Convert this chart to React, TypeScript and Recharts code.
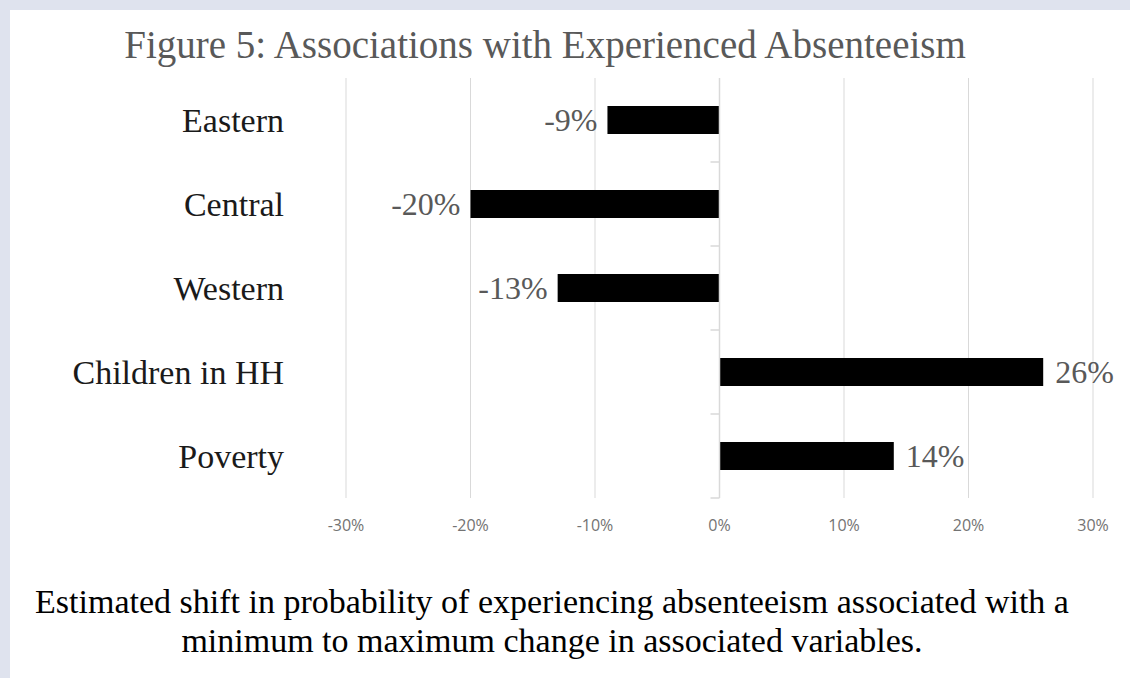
import React from "react";
import { BarChart, Bar, XAxis, YAxis, CartesianGrid, ReferenceLine, LabelList } from "recharts";

const categories = ["Eastern", "Central", "Western", "Children in HH", "Poverty"];
const shiftValues = [-0.09, -0.2, -0.13, 0.26, 0.14];
const xTicks = [-0.3, -0.2, -0.1, 0, 0.1, 0.2, 0.3];

const titleText = "Figure 5: Associations with Experienced Absenteeism";
const captionLines = [
  "Estimated shift in probability of experiencing absenteeism associated with a",
  "minimum to maximum change in associated variables.",
];

const data = categories.map((name, i) => ({ name, value: shiftValues[i] }));

const serif = "'Liberation Serif', 'Times New Roman', serif";

const pct = (v: number) => `${Math.round(v * 100)}%`;

const ValueLabel = (props: any) => {
  const { x, y, width, height, value } = props;
  const left = Math.min(x, x + width);
  const right = Math.max(x, x + width);
  const cy = y + height / 2;
  const neg = value < 0;
  return (
    <text
      x={neg ? left - 10 : right + 12}
      y={cy}
      dy="0.35em"
      textAnchor={neg ? "end" : "start"}
      fill="#595959"
      fontFamily={serif}
      fontSize={32}
    >
      {pct(value)}
    </text>
  );
};

const ZeroAxis = (props: any) => {
  const { x1, y1, x2, y2 } = props;
  const top = Math.min(y1, y2);
  const bottom = Math.max(y1, y2);
  const n = categories.length;
  const step = (bottom - top) / n;
  return (
    <g>
      <line x1={x1} y1={top} x2={x2} y2={bottom} stroke="#d9d9d9" strokeWidth={1.5} />
      {categories.map((c, i) => (
        <line
          key={c}
          x1={x1 - 9}
          x2={x1}
          y1={top + step * (i + 1)}
          y2={top + step * (i + 1)}
          stroke="#d9d9d9"
          strokeWidth={1.5}
        />
      ))}
    </g>
  );
};

export default function App() {
  return (
    <div
      style={{
        position: "absolute",
        left: 0,
        top: 0,
        width: 1130,
        height: 678,
        background: "#dfe3ee",
        overflow: "hidden",
      }}
    >
      <div
        style={{
          position: "absolute",
          left: 10,
          top: 10,
          width: 1120,
          height: 668,
          background: "#ffffff",
        }}
      />
      <div
        style={{
          position: "absolute",
          left: 0,
          top: 23,
          width: 1090,
          textAlign: "center",
          fontFamily: serif,
          fontSize: 39,
          color: "#595959",
          lineHeight: "44px",
          whiteSpace: "nowrap",
        }}
      >
        {titleText}
      </div>
      <div style={{ position: "absolute", left: 0, top: 0 }}>
        <BarChart
          width={1130}
          height={560}
          data={data}
          layout="vertical"
          margin={{ top: 78, right: 37, bottom: 22, left: 46 }}
          barSize={28}
        >
          <CartesianGrid horizontal={false} vertical={true} stroke="#d9d9d9" strokeWidth={1} />
          <XAxis
            type="number"
            domain={[-0.3, 0.3]}
            ticks={xTicks}
            tickFormatter={pct}
            axisLine={false}
            tickLine={false}
            height={40}
            tickMargin={16}
            tick={{ fill: "#737373", fontSize: 16, fontFamily: "'Open Sans', sans-serif" }}
          />
          <YAxis
            type="category"
            dataKey="name"
            width={300}
            axisLine={false}
            tickLine={false}
            tickMargin={56}
            tick={{ fill: "#1a1a1a", fontSize: 34, fontFamily: serif }}
          />
          <ReferenceLine x={0} shape={ZeroAxis} />
          <Bar dataKey="value" fill="#000000" isAnimationActive={false}>
            <LabelList dataKey="value" content={ValueLabel} />
          </Bar>
        </BarChart>
      </div>
      <div
        style={{
          position: "absolute",
          left: 0,
          top: 582,
          width: 1104,
          textAlign: "center",
          fontFamily: serif,
          fontSize: 34,
          color: "#000000",
          lineHeight: "39px",
          whiteSpace: "nowrap",
        }}
      >
        {captionLines.map((l) => (
          <div key={l}>{l}</div>
        ))}
      </div>
    </div>
  );
}
